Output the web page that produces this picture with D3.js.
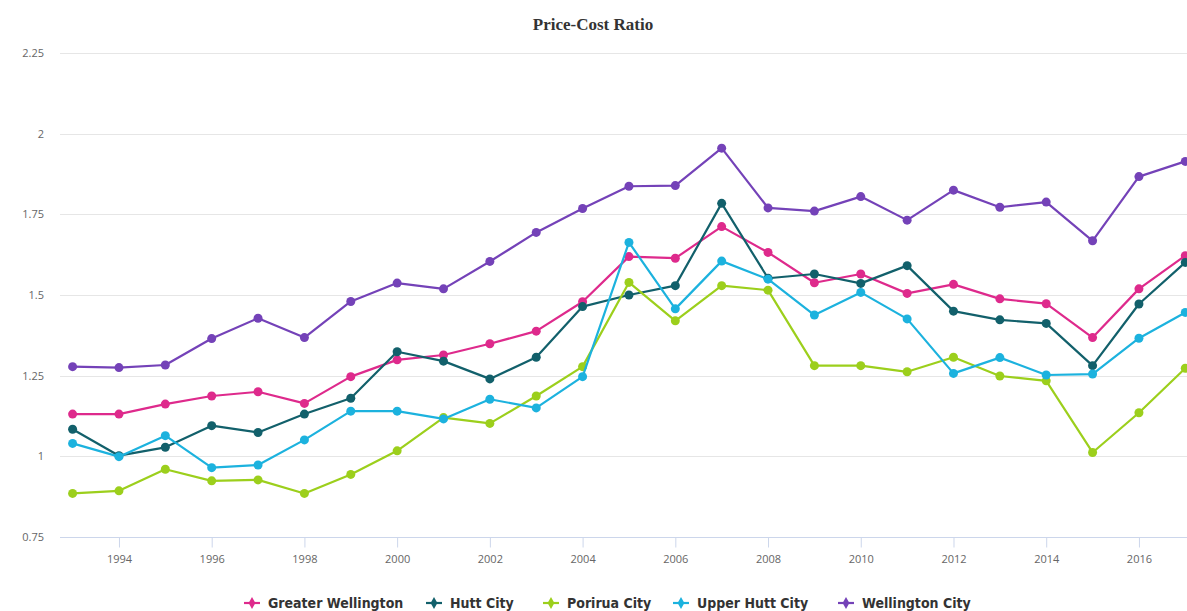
<!DOCTYPE html>
<html>
<head>
<meta charset="utf-8">
<script src="https://cdn.jsdelivr.net/npm/d3@7"></script>
<style>
  body { margin: 0; background: #fff; }
  svg { display: block; }
</style>
</head>
<body>
<div id="chart"></div>
<script>
let width = 1187;
let height = 611;

// 数据
let years = d3.range(1993, 2018);
let seriesNames = ["Greater Wellington", "Hutt City", "Porirua City", "Upper Hutt City", "Wellington City"];
let seriesColors = ["#de2a8c", "#12606b", "#9ccf1c", "#1cb2de", "#7442b8"];

let greaterWellington = [1.131, 1.131, 1.162, 1.187, 1.200, 1.164, 1.247, 1.299, 1.314, 1.349, 1.388, 1.479, 1.619, 1.614, 1.712, 1.632, 1.538, 1.565, 1.505, 1.533, 1.488, 1.473, 1.368, 1.519, 1.622];
let huttCity = [1.084, 1.002, 1.028, 1.095, 1.074, 1.131, 1.180, 1.324, 1.295, 1.240, 1.307, 1.464, 1.500, 1.529, 1.784, 1.552, 1.565, 1.536, 1.591, 1.450, 1.423, 1.412, 1.281, 1.472, 1.601];
let poriruaCity = [0.885, 0.893, 0.960, 0.924, 0.927, 0.885, 0.944, 1.017, 1.120, 1.102, 1.187, 1.278, 1.539, 1.420, 1.529, 1.515, 1.281, 1.281, 1.262, 1.307, 1.249, 1.234, 1.012, 1.135, 1.273];
let upperHuttCity = [1.040, 0.999, 1.064, 0.965, 0.973, 1.051, 1.140, 1.140, 1.116, 1.177, 1.150, 1.247, 1.663, 1.457, 1.605, 1.549, 1.438, 1.508, 1.426, 1.257, 1.306, 1.252, 1.255, 1.366, 1.446];
let wellingtonCity = [1.278, 1.275, 1.283, 1.365, 1.428, 1.368, 1.480, 1.537, 1.519, 1.604, 1.694, 1.768, 1.837, 1.839, 1.955, 1.770, 1.760, 1.805, 1.732, 1.825, 1.772, 1.788, 1.668, 1.867, 1.914];

let yTicks = [0.75, 1, 1.25, 1.5, 1.75, 2, 2.25];
let xTicks = d3.range(1994, 2017, 2);

let allSeries = [greaterWellington, huttCity, poriruaCity, upperHuttCity, wellingtonCity];

// 比例尺
let x = d3.scaleLinear().domain([1993, 2017]).range([72.6, 1185.3]);
let y = d3.scaleLinear().domain([0.75, 2.25]).range([537, 53]);

let svg = d3.select("#chart").append("svg")
    .attr("width", width)
    .attr("height", height);

// 标题
svg.append("text")
    .attr("x", 593)
    .attr("y", 30)
    .attr("text-anchor", "middle")
    .style("font-family", "'Liberation Serif', 'DejaVu Serif', serif")
    .style("font-size", "17px")
    .style("font-weight", "bold")
    .style("fill", "#333")
    .text("Price-Cost Ratio");

// 网格线
let grid = svg.append("g");
grid.selectAll("line")
    .data(yTicks)
    .enter()
    .append("line")
    .attr("x1", 60)
    .attr("x2", width)
    .attr("y1", d => Math.round(y(d)) + 0.5)
    .attr("y2", d => Math.round(y(d)) + 0.5)
    .style("stroke", d => d === 0.75 ? "#ccd6eb" : "#e6e6e6")
    .style("stroke-width", 1);

// y轴
let yAxis = svg.append("g")
    .attr("transform", "translate(44,0)")
    .call(d3.axisLeft(y).tickValues(yTicks).tickSize(0).tickFormat(d => d3.format("")(d)));
yAxis.select(".domain").remove();
yAxis.selectAll("text")
    .attr("x", 0)
    .attr("dy", "0.32em")
    .style("font-family", "'Open Sans', 'DejaVu Sans', sans-serif")
    .style("font-size", "11px")
    .style("fill", "#666");

// x轴
let xAxis = svg.append("g")
    .attr("transform", "translate(0,537.5)")
    .call(d3.axisBottom(x).tickValues(xTicks).tickSize(10).tickPadding(8).tickFormat(d3.format("d")));
xAxis.select(".domain").remove();
xAxis.selectAll(".tick line").style("stroke", "#ccd6eb");
xAxis.selectAll("text")
    .style("font-family", "'Open Sans', 'DejaVu Sans', sans-serif")
    .style("font-size", "11px")
    .style("fill", "#666");

// 折线
let line = d3.line()
    .x((d, i) => x(years[i]))
    .y(d => y(d));

let plot = svg.append("g");
allSeries.forEach(function(values, k) {
    let g = plot.append("g");
    g.append("path")
        .datum(values)
        .attr("d", line)
        .style("fill", "none")
        .style("stroke", seriesColors[k])
        .style("stroke-width", 2.2)
        .style("stroke-linejoin", "round");
    g.selectAll("circle")
        .data(values)
        .enter()
        .append("circle")
        .attr("cx", (d, i) => x(years[i]))
        .attr("cy", d => y(d))
        .attr("r", 4.5)
        .style("fill", seriesColors[k]);
});

// 图例
let legendX = [244, 426, 543, 673, 838];
let legend = svg.append("g");
seriesNames.forEach(function(name, k) {
    let lg = legend.append("g").attr("transform", "translate(" + legendX[k] + ",603)");
    lg.append("line")
        .attr("x1", 0)
        .attr("x2", 16)
        .attr("y1", 0)
        .attr("y2", 0)
        .style("stroke", seriesColors[k])
        .style("stroke-width", 2.2);
    lg.append("path")
        .attr("d", d3.symbol().type(d3.symbolDiamond).size(40))
        .attr("transform", "translate(8,0)")
        .style("fill", seriesColors[k]);
    lg.append("text")
        .attr("x", 24)
        .attr("y", 0)
        .attr("dy", "0.35em")
        .style("font-family", "'Liberation Sans Narrow', 'DejaVu Sans Condensed', sans-serif")
        .style("font-size", "14px")
        .style("font-weight", "bold")
        .style("fill", "#333")
        .text(name);
});
</script>
</body>
</html>
